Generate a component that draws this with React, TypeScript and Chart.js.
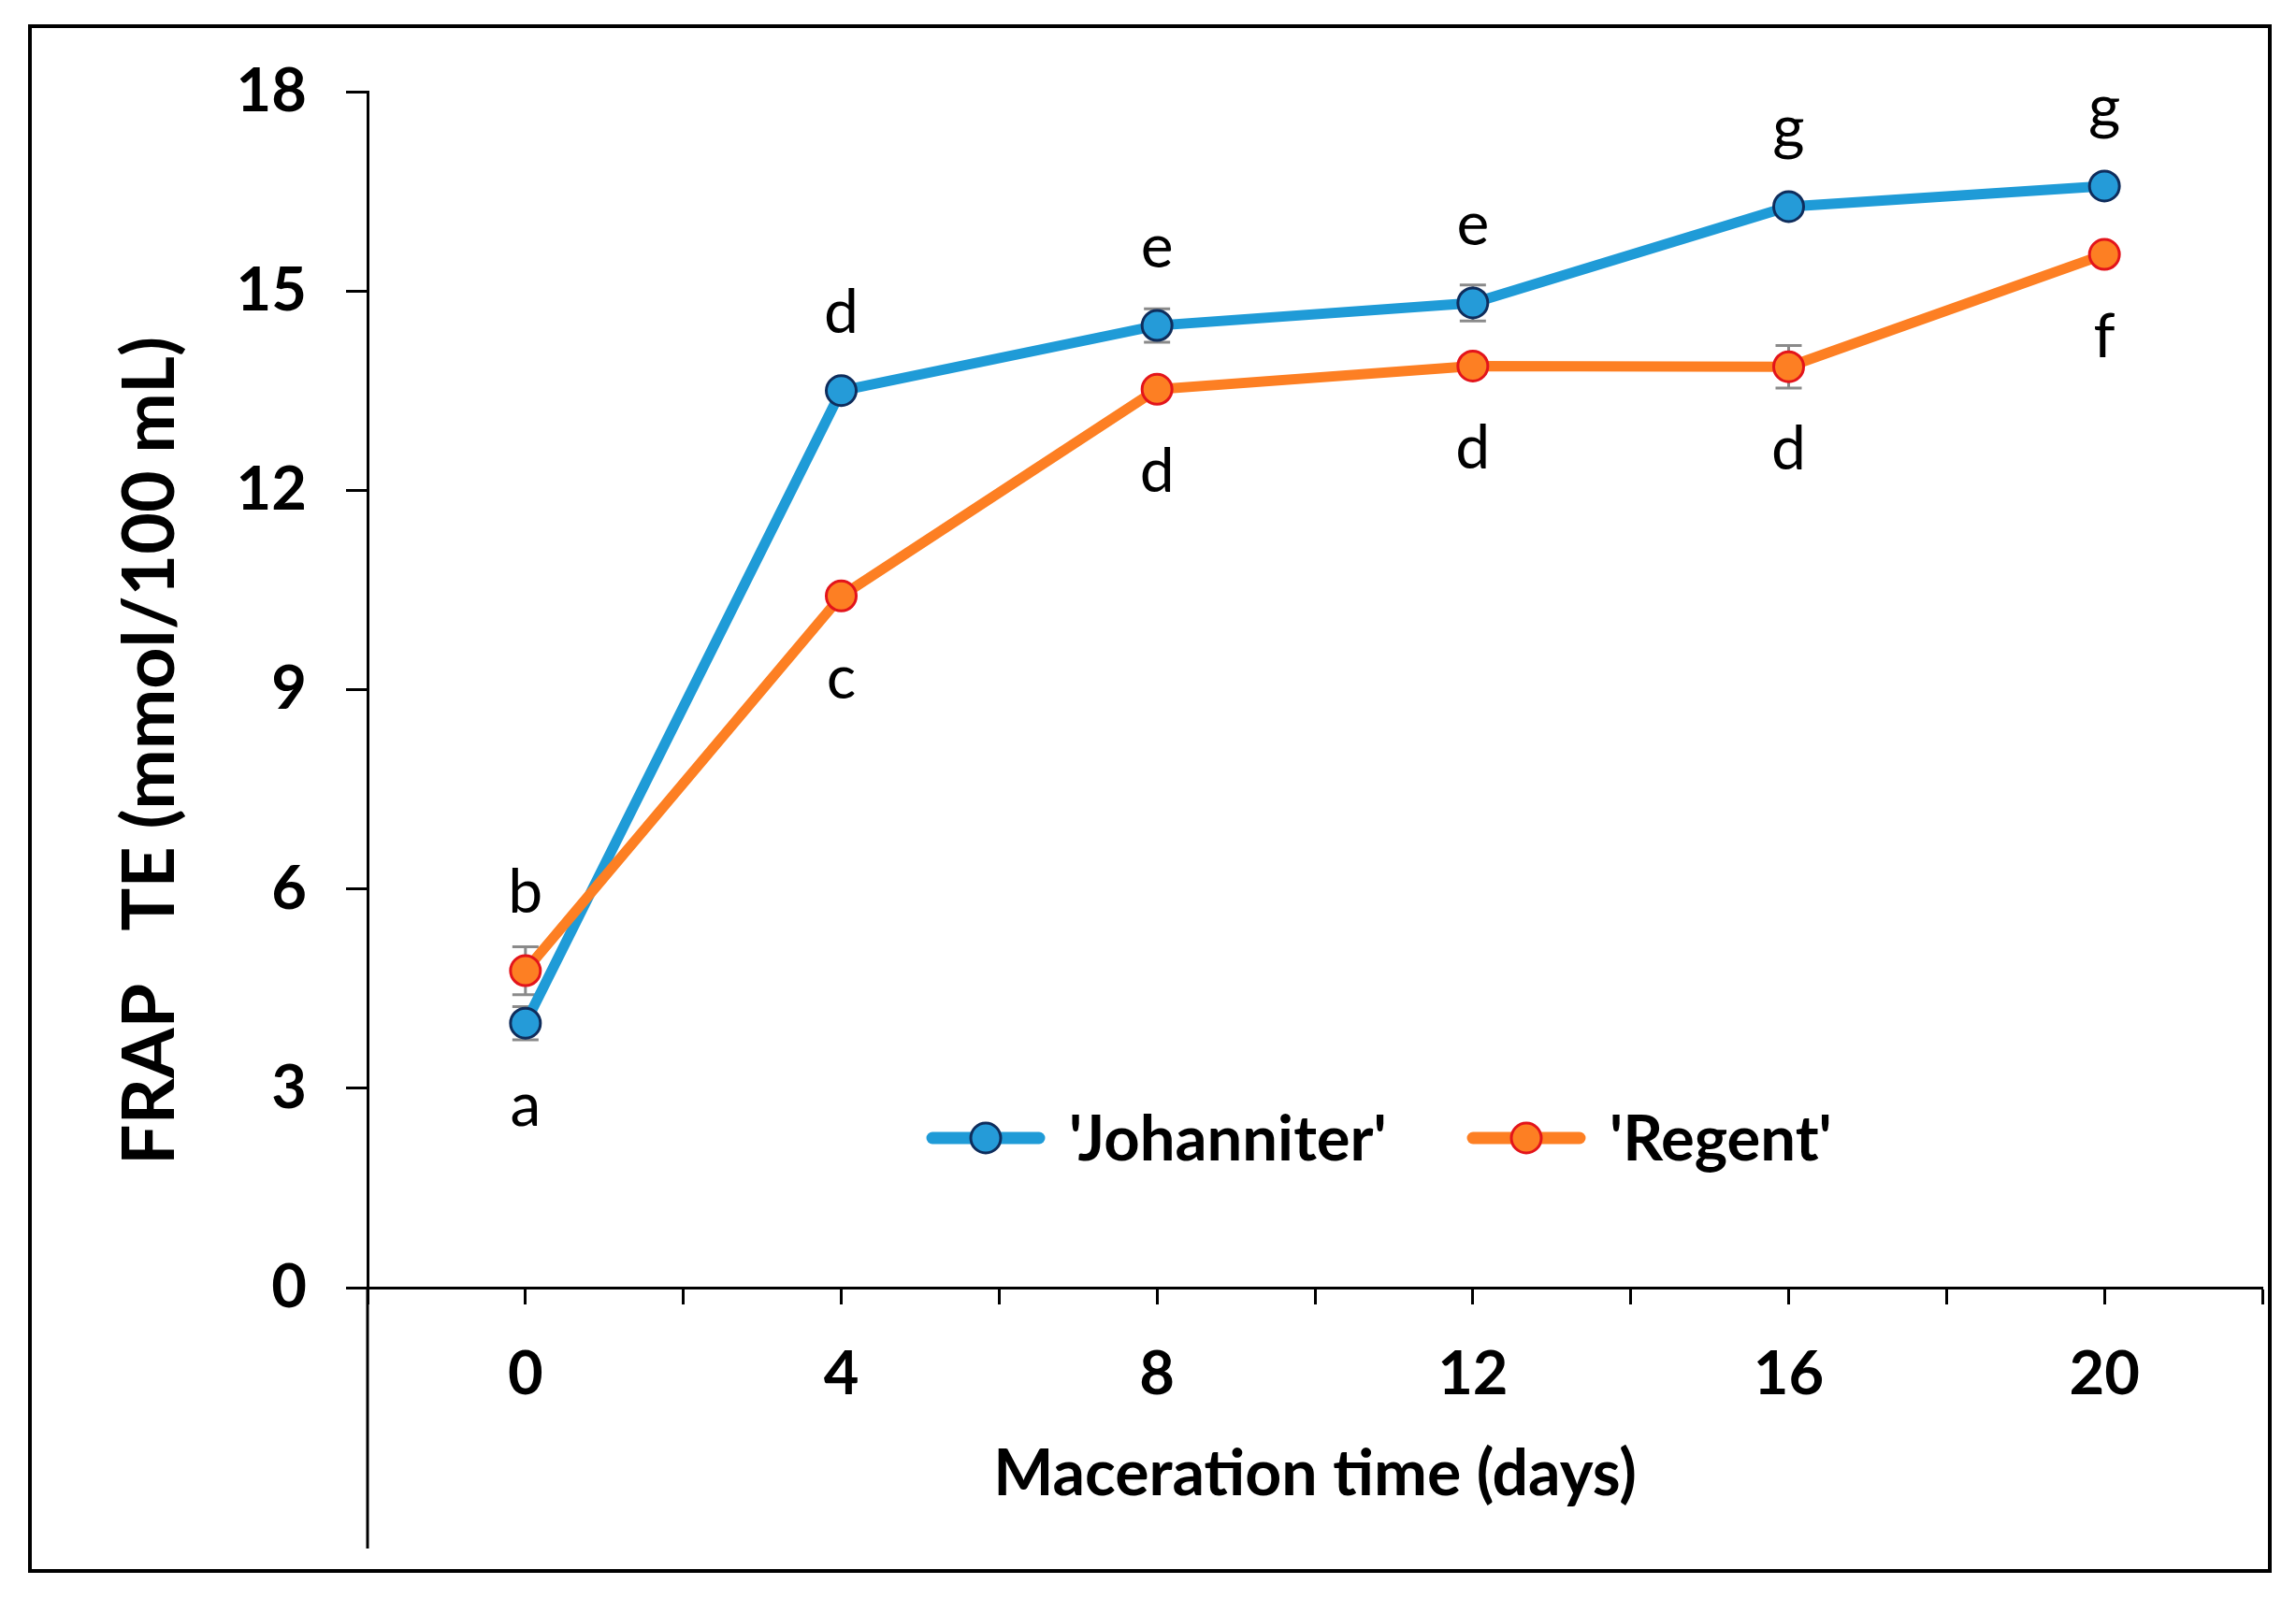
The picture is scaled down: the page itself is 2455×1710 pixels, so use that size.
import React, { useEffect, useRef } from 'react';
import { Chart, registerables } from 'chart.js';

Chart.register(...registerables);

// ---- data ----
const days = [0, 4, 8, 12, 16, 20];
const johanniter = [3.98, 13.5, 14.48, 14.82, 16.27, 16.58];
const regent = [4.77, 10.41, 13.52, 13.87, 13.86, 15.55];
const johanniterErr = [0.25, 0.1, 0.25, 0.27, 0.1, 0.1];
const regentErr = [0.36, 0.1, 0.1, 0.1, 0.32, 0.1];
const johanniterLetters = ['a', 'd', 'e', 'e', 'g', 'g'];
const regentLetters = ['b', 'c', 'd', 'd', 'd', 'f'];
const johanniterLetterAbove = [false, true, true, true, true, true];
const regentLetterAbove = [true, false, false, false, false, false];
const xTickLabels = ['0', '4', '8', '12', '16', '20'];
const seriesNames = ["'Johanniter'", "'Regent'"];

const FONT = 'Lato, "Open Sans", "DejaVu Sans", sans-serif';

const seriesValues = [johanniter, regent];
const seriesErrors = [johanniterErr, regentErr];
const seriesLetters = [johanniterLetters, regentLetters];
const seriesAbove = [johanniterLetterAbove, regentLetterAbove];

export default function App() {
  const ref = useRef<HTMLCanvasElement>(null);

  useEffect(() => {
    const canvas = ref.current;
    if (!canvas) return;

    const framePlugin = {
      id: 'frame',
      afterDraw(chart: any) {
        const { ctx, chartArea } = chart;
        ctx.save();
        // y axis extension below the x axis
        ctx.strokeStyle = '#000';
        ctx.lineWidth = 3;
        ctx.beginPath();
        ctx.moveTo(chartArea.left, chartArea.bottom);
        ctx.lineTo(chartArea.left, 1656);
        ctx.stroke();
        // outer frame
        ctx.lineWidth = 4;
        ctx.strokeRect(32, 28, 2395, 1652);
        ctx.restore();
      },
    };

    const errorBarPlugin = {
      id: 'errorBars',
      beforeDatasetsDraw(chart: any) {
        const { ctx } = chart;
        const x = chart.scales.x;
        const y = chart.scales.y;
        ctx.save();
        ctx.strokeStyle = '#8a8a8a';
        ctx.lineWidth = 3;
        seriesValues.forEach((vals, si) => {
          const errs = seriesErrors[si];
          vals.forEach((v, i) => {
            const px = x.getPixelForValue(days[i]);
            const top = y.getPixelForValue(v + errs[i]);
            const bot = y.getPixelForValue(v - errs[i]);
            ctx.beginPath();
            ctx.moveTo(px, top);
            ctx.lineTo(px, bot);
            ctx.moveTo(px - 14, top);
            ctx.lineTo(px + 14, top);
            ctx.moveTo(px - 14, bot);
            ctx.lineTo(px + 14, bot);
            ctx.stroke();
          });
        });
        ctx.restore();
      },
    };

    const letterPlugin = {
      id: 'letters',
      afterDatasetsDraw(chart: any) {
        const { ctx } = chart;
        ctx.save();
        ctx.fillStyle = '#000';
        ctx.font = `400 66px ${FONT}`;
        ctx.textAlign = 'center';
        ctx.textBaseline = 'alphabetic';
        seriesLetters.forEach((letters, si) => {
          const meta = chart.getDatasetMeta(si);
          letters.forEach((l, i) => {
            const pt = meta.data[i];
            const yy = seriesAbove[si][i] ? pt.y - 62 : pt.y + 110;
            ctx.fillText(l, pt.x, yy);
          });
        });
        ctx.restore();
      },
    };

    const legendPlugin = {
      id: 'customLegend',
      afterDraw(chart: any) {
        const { ctx, chartArea } = chart;
        const starts = [chartArea.left + 598, chartArea.left + 1176];
        const yy = chartArea.top + 1119;
        ctx.save();
        chart.data.datasets.forEach((ds: any, i: number) => {
          const x0 = starts[i];
          ctx.strokeStyle = ds.borderColor;
          ctx.lineWidth = 13;
          ctx.lineCap = 'round';
          ctx.beginPath();
          ctx.moveTo(x0 + 6, yy);
          ctx.lineTo(x0 + 120, yy);
          ctx.stroke();
          ctx.beginPath();
          ctx.arc(x0 + 63, yy, 16, 0, Math.PI * 2);
          ctx.fillStyle = ds.pointBackgroundColor;
          ctx.fill();
          ctx.lineWidth = 3;
          ctx.strokeStyle = ds.pointBorderColor;
          ctx.stroke();
          ctx.fillStyle = '#000';
          ctx.font = `700 67px ${FONT}`;
          ctx.textAlign = 'left';
          ctx.textBaseline = 'alphabetic';
          ctx.fillText(ds.label, x0 + 152, yy + 24);
        });
        ctx.restore();
      },
    };

    const chart = new Chart(canvas, {
      type: 'line',
      data: {
        datasets: [
          {
            label: seriesNames[0],
            data: days.map((d, i) => ({ x: d, y: johanniter[i] })),
            borderColor: '#1f9bd7',
            backgroundColor: '#1f9bd7',
            pointBackgroundColor: '#259bd8',
            pointBorderColor: '#0f2d5c',
            pointBorderWidth: 3,
            pointRadius: 16,
            borderWidth: 11,
            order: 1,
          },
          {
            label: seriesNames[1],
            data: days.map((d, i) => ({ x: d, y: regent[i] })),
            borderColor: '#fd7f23',
            backgroundColor: '#fd7f23',
            pointBackgroundColor: '#fd7f23',
            pointBorderColor: '#e3141b',
            pointBorderWidth: 3,
            pointRadius: 16,
            borderWidth: 11,
            order: 0,
          },
        ],
      },
      options: {
        animation: false,
        responsive: true,
        maintainAspectRatio: false,
        devicePixelRatio: 1,
        layout: { padding: { left: 0, right: 27, top: 98, bottom: 0 } },
        plugins: {
          legend: { display: false },
          tooltip: { enabled: false },
        },
        scales: {
          x: {
            type: 'linear',
            min: -2,
            max: 22,
            afterFit: (s: any) => {
              s.height = 333;
            },
            ticks: {
              stepSize: 2,
              autoSkip: false,
              maxRotation: 0,
              padding: 36,
              color: '#000',
              font: { family: FONT, size: 65, weight: 'bold' },
              callback: (v: any) => (xTickLabels.includes(String(v)) ? String(v) : ''),
            },
            grid: {
              drawOnChartArea: false,
              drawTicks: true,
              tickLength: 18,
              tickColor: '#000',
              tickWidth: 3,
            },
            border: { display: true, color: '#000', width: 3 },
            title: {
              display: true,
              text: 'Maceration time (days)',
              color: '#000',
              font: { family: FONT, size: 68, weight: 'bold' },
              padding: { top: 0, bottom: 92 },
            },
          },
          y: {
            type: 'linear',
            min: 0,
            max: 18,
            afterFit: (s: any) => {
              s.width = 393;
            },
            ticks: {
              stepSize: 3,
              padding: 42,
              color: '#000',
              font: { family: FONT, size: 65, weight: 'bold' },
            },
            grid: {
              drawOnChartArea: false,
              drawTicks: true,
              tickLength: 23,
              tickColor: '#000',
              tickWidth: 3,
            },
            border: { display: true, color: '#000', width: 3 },
            title: {
              display: true,
              text: 'FRAP   TE (mmol/100 mL)       ',
              color: '#000',
              font: { family: FONT, size: 77, weight: 'bold' },
              padding: { top: 115, bottom: 0 },
            },
          },
        },
      } as any,
      plugins: [errorBarPlugin, letterPlugin, legendPlugin, framePlugin],
    });

    return () => chart.destroy();
  }, []);

  return (
    <div
      style={{
        position: 'fixed',
        left: 0,
        top: 0,
        width: 2455,
        height: 1710,
        background: '#fff',
      }}
    >
      <canvas ref={ref} />
    </div>
  );
}
